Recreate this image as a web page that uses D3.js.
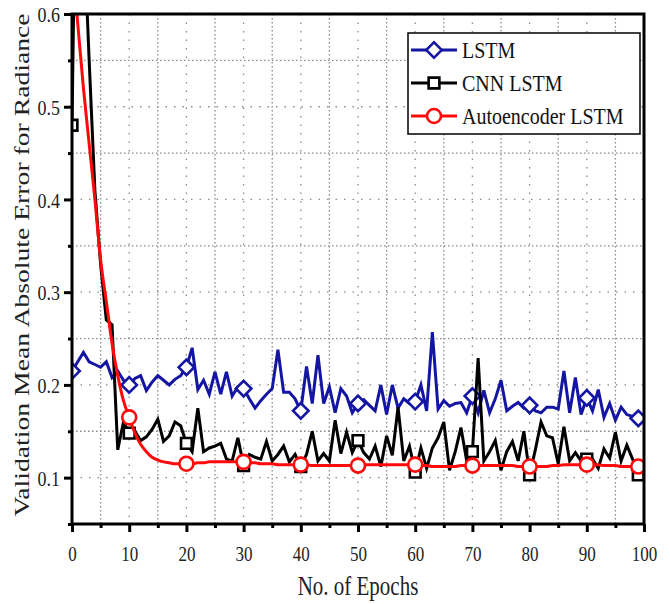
<!DOCTYPE html>
<html>
<head>
<meta charset="utf-8">
<script src="https://cdn.jsdelivr.net/npm/d3@7/dist/d3.min.js"></script>
<style>
  body { margin: 0; background: #fff; }
  svg { display: block; font-family: "Liberation Serif", "Times New Roman", serif; }
</style>
</head>
<body>
<svg id="chart" width="670" height="604"></svg>
<script>
// epochs 0..99, one value per epoch
var epochs = d3.range(0, 100);
var markerEpochs = [0, 10, 20, 30, 40, 50, 60, 70, 80, 90, 99];
var xTicks = [0, 10, 20, 30, 40, 50, 60, 70, 80, 90, 100];
var yTicks = [0.1, 0.2, 0.3, 0.4, 0.5, 0.6];

var lstm = [
  0.215, 0.225, 0.235, 0.225, 0.222, 0.219, 0.225, 0.208, 0.215, 0.205,
  0.200, 0.207, 0.210, 0.194, 0.203, 0.210, 0.205, 0.200, 0.206, 0.210,
  0.219, 0.240, 0.195, 0.205, 0.190, 0.214, 0.190, 0.214, 0.188, 0.198,
  0.196, 0.185, 0.175, 0.183, 0.190, 0.196, 0.238, 0.192, 0.192, 0.185,
  0.172, 0.220, 0.180, 0.232, 0.180, 0.198, 0.170, 0.196, 0.188, 0.170,
  0.180, 0.184, 0.178, 0.172, 0.200, 0.168, 0.200, 0.175, 0.185, 0.180,
  0.182, 0.200, 0.172, 0.257, 0.174, 0.183, 0.177, 0.180, 0.181, 0.170,
  0.188, 0.170, 0.194, 0.170, 0.185, 0.205, 0.172, 0.177, 0.181, 0.175,
  0.178, 0.172, 0.170, 0.176, 0.176, 0.174, 0.215, 0.170, 0.208, 0.168,
  0.186, 0.172, 0.195, 0.165, 0.180, 0.162, 0.176, 0.168, 0.166, 0.164
];

var cnnLstm = [
  0.480, 0.920, 0.700, 0.550, 0.410, 0.330, 0.270, 0.265, 0.130, 0.160,
  0.148, 0.150, 0.140, 0.144, 0.152, 0.163, 0.139, 0.145, 0.160, 0.156,
  0.137, 0.128, 0.175, 0.128, 0.132, 0.134, 0.137, 0.120, 0.118, 0.143,
  0.113, 0.125, 0.122, 0.120, 0.139, 0.118, 0.125, 0.134, 0.117, 0.125,
  0.112, 0.125, 0.150, 0.118, 0.126, 0.118, 0.162, 0.126, 0.149, 0.127,
  0.140, 0.127, 0.120, 0.134, 0.112, 0.145, 0.124, 0.176, 0.118, 0.134,
  0.106, 0.132, 0.110, 0.132, 0.143, 0.160, 0.108, 0.128, 0.154, 0.118,
  0.128, 0.229, 0.118, 0.128, 0.140, 0.108, 0.128, 0.139, 0.118, 0.150,
  0.103, 0.130, 0.160, 0.145, 0.143, 0.115, 0.155, 0.118, 0.127, 0.118,
  0.120, 0.120, 0.110, 0.131, 0.121, 0.149, 0.118, 0.135, 0.120, 0.103
];

var autoencoderLstm = [
  0.660, 0.590, 0.520, 0.460, 0.400, 0.335, 0.290, 0.245, 0.210, 0.183,
  0.165, 0.148, 0.136, 0.128, 0.122, 0.119, 0.117, 0.116, 0.115, 0.115,
  0.115, 0.115, 0.116, 0.116, 0.117, 0.117, 0.117, 0.117, 0.117, 0.117,
  0.117, 0.116, 0.116, 0.115, 0.115, 0.115, 0.114, 0.114, 0.114, 0.114,
  0.114, 0.114, 0.113, 0.113, 0.113, 0.113, 0.113, 0.113, 0.113, 0.113,
  0.113, 0.114, 0.114, 0.114, 0.114, 0.114, 0.114, 0.114, 0.114, 0.114,
  0.114, 0.113, 0.113, 0.112, 0.112, 0.112, 0.112, 0.112, 0.113, 0.113,
  0.113, 0.113, 0.113, 0.113, 0.113, 0.113, 0.113, 0.113, 0.112, 0.112,
  0.112, 0.112, 0.112, 0.112, 0.113, 0.113, 0.114, 0.114, 0.114, 0.114,
  0.114, 0.114, 0.114, 0.113, 0.113, 0.113, 0.112, 0.112, 0.112, 0.112
];

var seriesNames = ["LSTM", "CNN LSTM", "Autoencoder LSTM"];
var seriesColors = ["#1515a3", "#000000", "#ff0a0a"];

var svg = d3.select("#chart"),
    plotL = 72, plotR = 644, plotT = 14, plotB = 524;

var x = d3.scaleLinear().domain([0, 100]).range([plotL, plotR]);
var y = d3.scaleLinear().domain([0.05, 0.6]).range([plotB, plotT]);

svg.append("defs").append("clipPath").attr("id", "plotClip")
  .append("rect")
  .attr("x", plotL).attr("y", plotT)
  .attr("width", plotR - plotL).attr("height", plotB - plotT);

// dotted grid, every 5 epochs and every 0.05
var grid = svg.append("g").attr("class", "grid");
grid.selectAll("line.gx")
  .data(d3.range(5, 100, 5))
  .enter().append("line")
  .attr("x1", function (d) { return x(d); })
  .attr("x2", function (d) { return x(d); })
  .attr("y1", plotT).attr("y2", plotB)
  .attr("stroke", "#8a8a8a")
  .attr("stroke-width", 1.3)
  .attr("stroke-dasharray", function (d) { return d % 10 === 0 ? "1.5,7" : "1.5,2.5"; });
grid.selectAll("line.gy")
  .data(d3.range(0.1, 0.59, 0.05))
  .enter().append("line")
  .attr("y1", function (d) { return y(d); })
  .attr("y2", function (d) { return y(d); })
  .attr("x1", plotL).attr("x2", plotR)
  .attr("stroke", "#8a8a8a")
  .attr("stroke-width", 1.3)
  .attr("stroke-dasharray", function (d) { return Math.round(d * 100) % 10 === 0 ? "1.5,7" : "1.5,2.5"; });

// series: blue, black, then red on top
var allSeries = [lstm, cnnLstm, autoencoderLstm];
var plot = svg.append("g").attr("clip-path", "url(#plotClip)");

var diamond = d3.symbol(d3.symbolSquare, 120)();
var square = d3.symbol(d3.symbolSquare, 115)();

allSeries.forEach(function (vals, i) {
  var line = d3.line()
    .x(function (d) { return x(d); })
    .y(function (d) { return y(vals[d]); });
  if (i === 2) { line.curve(d3.curveMonotoneX); }

  plot.append("path")
    .datum(epochs)
    .attr("d", line)
    .attr("fill", "none")
    .attr("stroke", seriesColors[i])
    .attr("stroke-width", 3)
    .attr("stroke-linejoin", "miter");

  var m = plot.selectAll(null)
    .data(markerEpochs)
    .enter().append("g")
    .attr("transform", function (d) { return "translate(" + x(d) + "," + y(vals[d]) + ")"; });
  if (i === 0) {
    m.append("path").attr("d", diamond).attr("transform", "rotate(45)");
  } else if (i === 1) {
    m.append("path").attr("d", square);
  } else {
    m.append("circle").attr("r", 7);
  }
  m.selectAll("path, circle")
    .attr("fill", "#fff")
    .attr("stroke", seriesColors[i])
    .attr("stroke-width", 2.6);
});

// axes
var xAxis = svg.append("g").attr("transform", "translate(0," + plotB + ")");
xAxis.call(d3.axisBottom(x).tickValues(d3.range(5, 100, 10)).tickSize(4).tickFormat(""));
xAxis.append("g").call(d3.axisBottom(x).tickValues(xTicks).tickSize(8).tickFormat(d3.format("d")));
xAxis.selectAll(".domain").remove();
xAxis.selectAll("line").attr("stroke", "#000").attr("stroke-width", 3);
xAxis.selectAll("text")
  .attr("y", 0).attr("dy", "0.35em")
  .attr("transform", "translate(0,30) scale(1,1.25)")
  .attr("font-family", "Liberation Serif")
  .attr("font-size", 17)
  .attr("fill", "#222");

var yAxis = svg.append("g").attr("transform", "translate(" + plotL + ",0)");
yAxis.call(d3.axisLeft(y).tickValues(d3.range(0.05, 0.6, 0.1)).tickSize(4).tickFormat(""));
yAxis.append("g").call(d3.axisLeft(y).tickValues(yTicks).tickSize(8).tickFormat(d3.format(".1f")));
yAxis.selectAll(".domain").remove();
yAxis.selectAll("line").attr("stroke", "#000").attr("stroke-width", 3);
yAxis.selectAll("text")
  .attr("x", 0).attr("dy", "0.35em")
  .attr("transform", "translate(-12,0) scale(1,1.2)")
  .attr("font-family", "Liberation Serif")
  .attr("font-size", 18)
  .attr("fill", "#222");

// frame
svg.append("rect")
  .attr("x", plotL).attr("y", plotT)
  .attr("width", plotR - plotL).attr("height", plotB - plotT)
  .attr("fill", "none").attr("stroke", "#000").attr("stroke-width", 3);

// axis titles
svg.append("text")
  .attr("transform", "translate(" + ((plotL + plotR) / 2) + ",585) scale(1,1.3)")
  .attr("text-anchor", "middle").attr("dy", "0.35em")
  .attr("font-size", 21).attr("fill", "#222")
  .text("No. of Epochs");

svg.append("text")
  .attr("transform", "translate(22,265) rotate(-90) scale(1.35,1)")
  .attr("text-anchor", "middle").attr("dy", "0.35em")
  .attr("font-size", 20.5).attr("fill", "#222")
  .text("Validation Mean Absolute Error for Radiance");

// legend
var legend = svg.append("g");
legend.append("rect")
  .attr("x", 408).attr("y", 33).attr("width", 232).attr("height", 101)
  .attr("fill", "#fff").attr("stroke", "#000").attr("stroke-width", 1.5);

seriesNames.forEach(function (name, i) {
  var ly = 50 + i * 33;
  var row = legend.append("g");
  row.append("line")
    .attr("x1", 411).attr("x2", 457).attr("y1", ly).attr("y2", ly)
    .attr("stroke", seriesColors[i]).attr("stroke-width", 3);
  var mk;
  if (i === 0) {
    mk = row.append("path").attr("d", diamond).attr("transform", "translate(434," + ly + ") rotate(45)");
  } else if (i === 1) {
    mk = row.append("path").attr("d", square).attr("transform", "translate(434," + ly + ")");
  } else {
    mk = row.append("circle").attr("cx", 434).attr("cy", ly).attr("r", 7);
  }
  mk.attr("fill", "#fff").attr("stroke", seriesColors[i]).attr("stroke-width", 2.6);
  row.append("text")
    .attr("transform", "translate(462," + ly + ") scale(1,1.2)")
    .attr("dy", "0.35em")
    .attr("font-size", 20).attr("fill", "#111")
    .text(name);
});
</script>
</body>
</html>
